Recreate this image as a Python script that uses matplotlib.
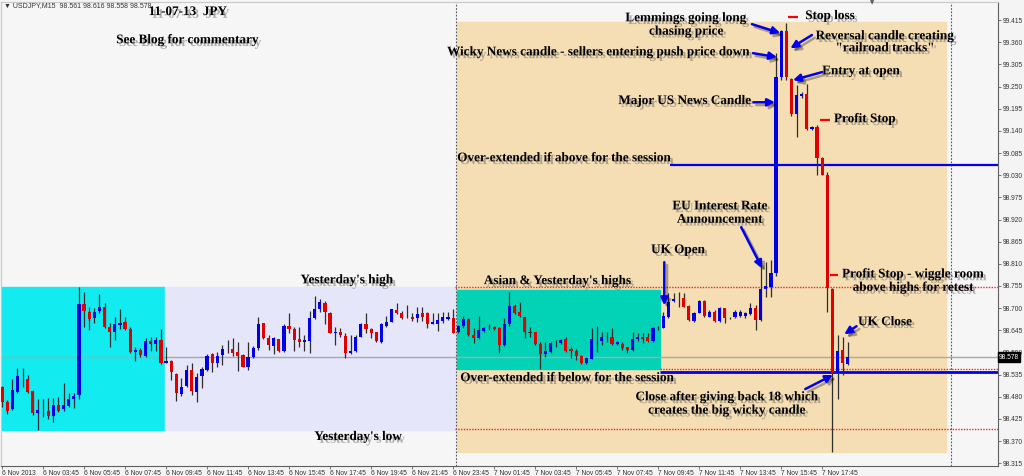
import matplotlib
matplotlib.use("Agg")
import matplotlib.pyplot as plt
import matplotlib.patheffects as pe
from matplotlib.patches import Rectangle
from matplotlib.transforms import blended_transform_factory
import numpy as np

# USDJPY M15 bars, 6 Nov 01:45 -> 7 Nov 17:15
opens = [98.504, 98.467, 98.449, 98.491, 98.524, 98.524, 98.494, 98.439, 98.444, 98.444,
         98.432, 98.459, 98.449, 98.457, 98.474, 98.484, 98.710, 98.690, 98.675, 98.692,
         98.702, 98.653, 98.640, 98.658, 98.665, 98.648, 98.591, 98.596, 98.581, 98.618,
         98.611, 98.621, 98.563, 98.568, 98.536, 98.486, 98.506, 98.546, 98.491, 98.531,
         98.546, 98.586, 98.563, 98.583, 98.598, 98.598, 98.591, 98.583, 98.553, 98.578,
         98.601, 98.663, 98.625, 98.606, 98.623, 98.593, 98.655, 98.648, 98.623, 98.616,
         98.618, 98.675, 98.697, 98.712, 98.687, 98.638, 98.640, 98.630, 98.588, 98.593,
         98.628, 98.660, 98.648, 98.640, 98.616, 98.655, 98.665, 98.695, 98.687, 98.678,
         98.678, 98.675, 98.687, 98.687, 98.660, 98.660, 98.668, 98.673, 98.675, 98.640,
         98.655, 98.673, 98.633, 98.625, 98.643, 98.650, 98.653, 98.650, 98.608, 98.660,
         98.705, 98.690, 98.678, 98.640, 98.640, 98.611, 98.586, 98.591, 98.613, 98.613,
         98.623, 98.598, 98.593, 98.581, 98.563, 98.573, 98.623, 98.618, 98.628, 98.628,
         98.611, 98.611, 98.603, 98.596, 98.623, 98.628, 98.628, 98.618, 98.648, 98.650,
         98.678, 98.717, 98.727, 98.725, 98.705, 98.668, 98.687, 98.717, 98.678, 98.690,
         98.668, 98.700, 98.675, 98.678, 98.680, 98.680, 98.685, 98.700, 98.670, 98.747,
         98.752, 98.787, 99.273, 99.388, 99.268, 99.183, 99.226, 99.231, 99.144, 99.149,
         99.072, 99.030, 98.747, 98.538, 98.596, 98.561]
highs = [98.506, 98.471, 98.524, 98.551, 98.551, 98.534, 98.496, 98.474, 98.474, 98.476,
         98.476, 98.479, 98.514, 98.489, 98.489, 98.752, 98.740, 98.702, 98.700, 98.735,
         98.712, 98.663, 98.678, 98.697, 98.678, 98.653, 98.603, 98.601, 98.626, 98.628,
         98.628, 98.648, 98.603, 98.571, 98.539, 98.526, 98.558, 98.563, 98.539, 98.553,
         98.586, 98.588, 98.591, 98.608, 98.621, 98.626, 98.616, 98.586, 98.616, 98.606,
         98.678, 98.663, 98.633, 98.628, 98.623, 98.660, 98.687, 98.653, 98.653, 98.633,
         98.692, 98.730, 98.722, 98.717, 98.690, 98.653, 98.650, 98.638, 98.633, 98.633,
         98.663, 98.687, 98.650, 98.640, 98.663, 98.680, 98.697, 98.712, 98.692, 98.707,
         98.687, 98.702, 98.702, 98.690, 98.687, 98.687, 98.690, 98.690, 98.697, 98.658,
         98.680, 98.675, 98.650, 98.680, 98.653, 98.660, 98.655, 98.653, 98.675, 98.740,
         98.710, 98.715, 98.678, 98.653, 98.640, 98.616, 98.616, 98.616, 98.621, 98.623,
         98.628, 98.603, 98.598, 98.583, 98.578, 98.650, 98.655, 98.640, 98.640, 98.650,
         98.618, 98.616, 98.603, 98.640, 98.638, 98.638, 98.638, 98.653, 98.655, 98.690,
         98.737, 98.737, 98.740, 98.737, 98.707, 98.690, 98.720, 98.720, 98.695, 98.695,
         98.702, 98.700, 98.678, 98.695, 98.695, 98.690, 98.712, 98.707, 98.807, 98.814,
         98.819, 99.333, 99.390, 99.407, 99.271, 99.253, 99.236, 99.256, 99.151, 99.154,
         99.075, 99.037, 98.750, 98.633, 98.628, 98.616]
lows = [98.454, 98.437, 98.447, 98.489, 98.504, 98.489, 98.434, 98.397, 98.429, 98.424,
        98.417, 98.442, 98.444, 98.454, 98.452, 98.474, 98.653, 98.645, 98.663, 98.687,
        98.650, 98.603, 98.621, 98.648, 98.645, 98.588, 98.568, 98.578, 98.578, 98.593,
        98.593, 98.561, 98.563, 98.521, 98.469, 98.481, 98.504, 98.484, 98.467, 98.501,
        98.544, 98.541, 98.553, 98.558, 98.588, 98.581, 98.544, 98.553, 98.546, 98.576,
        98.596, 98.623, 98.596, 98.586, 98.591, 98.591, 98.638, 98.593, 98.603, 98.593,
        98.588, 98.673, 98.690, 98.660, 98.638, 98.608, 98.628, 98.576, 98.586, 98.591,
        98.628, 98.638, 98.625, 98.616, 98.613, 98.653, 98.665, 98.685, 98.673, 98.675,
        98.668, 98.665, 98.668, 98.650, 98.660, 98.643, 98.663, 98.670, 98.638, 98.638,
        98.650, 98.630, 98.613, 98.623, 98.640, 98.645, 98.645, 98.588, 98.606, 98.655,
        98.685, 98.678, 98.625, 98.628, 98.608, 98.548, 98.578, 98.588, 98.603, 98.611,
        98.591, 98.576, 98.571, 98.561, 98.561, 98.573, 98.591, 98.608, 98.616, 98.608,
        98.608, 98.596, 98.588, 98.593, 98.618, 98.613, 98.616, 98.616, 98.645, 98.650,
        98.675, 98.715, 98.702, 98.702, 98.668, 98.665, 98.687, 98.678, 98.678, 98.665,
        98.665, 98.663, 98.673, 98.675, 98.678, 98.675, 98.683, 98.645, 98.668, 98.727,
        98.727, 98.780, 99.266, 99.266, 99.178, 99.124, 99.221, 99.141, 99.141, 99.030,
        99.030, 98.690, 98.342, 98.474, 98.534, 98.558]
closes = [98.467, 98.444, 98.496, 98.531, 98.524, 98.491, 98.439, 98.447, 98.444, 98.432,
          98.459, 98.444, 98.459, 98.474, 98.481, 98.710, 98.692, 98.673, 98.690, 98.702,
          98.653, 98.640, 98.660, 98.663, 98.648, 98.591, 98.596, 98.583, 98.618, 98.611,
          98.621, 98.563, 98.568, 98.541, 98.489, 98.504, 98.546, 98.494, 98.529, 98.548,
          98.581, 98.563, 98.581, 98.598, 98.598, 98.588, 98.581, 98.553, 98.578, 98.601,
          98.660, 98.625, 98.608, 98.625, 98.593, 98.655, 98.648, 98.621, 98.616, 98.621,
          98.675, 98.697, 98.715, 98.690, 98.638, 98.640, 98.633, 98.588, 98.593, 98.628,
          98.660, 98.648, 98.638, 98.618, 98.660, 98.665, 98.697, 98.687, 98.675, 98.678,
          98.673, 98.685, 98.678, 98.660, 98.665, 98.670, 98.678, 98.678, 98.638, 98.655,
          98.673, 98.633, 98.625, 98.645, 98.650, 98.650, 98.648, 98.608, 98.660, 98.705,
          98.687, 98.680, 98.640, 98.640, 98.611, 98.586, 98.593, 98.613, 98.613, 98.621,
          98.593, 98.593, 98.581, 98.563, 98.576, 98.623, 98.623, 98.628, 98.628, 98.611,
          98.616, 98.601, 98.596, 98.623, 98.628, 98.623, 98.618, 98.650, 98.648, 98.680,
          98.715, 98.722, 98.727, 98.702, 98.670, 98.687, 98.717, 98.680, 98.690, 98.668,
          98.700, 98.675, 98.675, 98.690, 98.690, 98.687, 98.700, 98.670, 98.747, 98.755,
          98.787, 99.273, 99.388, 99.273, 99.183, 99.228, 99.231, 99.144, 99.149, 99.072,
          99.030, 98.749, 98.538, 98.593, 98.563, 98.578]

time_labels = ["6 Nov 2013", "6 Nov 03:45", "6 Nov 05:45", "6 Nov 07:45", "6 Nov 09:45",
               "6 Nov 11:45", "6 Nov 13:45", "6 Nov 15:45", "6 Nov 17:45", "6 Nov 19:45",
               "6 Nov 21:45", "6 Nov 23:45", "7 Nov 01:45", "7 Nov 03:45", "7 Nov 05:45",
               "7 Nov 07:45", "7 Nov 09:45", "7 Nov 11:45", "7 Nov 13:45", "7 Nov 15:45",
               "7 Nov 17:45"]
time_ticks = [8 * i for i in range(len(time_labels))]

# key levels
yest_high, yest_low = 98.752, 98.397
asian_high, asian_low = 98.745, 98.548
session_top, session_bottom = 99.410, 98.342
over_above, over_below = 99.055, 98.542
bid = 98.578
day_start = 88.5          # 7 Nov 00:00
next_day = 185.2          # 8 Nov 00:00

SERIF = "Liberation Serif"
SANS = "Liberation Sans"
BLUE = "#0000ee"
shadow = [pe.withSimplePatchShadow(offset=(2, -2), shadow_rgbFace="#555555", alpha=0.45)]

fig = plt.figure(figsize=(10.24, 4.76), dpi=100, facecolor="#f4f4f4")
ax = fig.add_axes([1 / 1024, 10 / 476, 997 / 1024, 464 / 476])
ax.set_facecolor("#f6f6f6")
ax.set_xlim(-0.2, 194.3)
ax.set_ylim(98.308, 99.460)

# background zones
ax.add_patch(Rectangle((-1, yest_low), 32.8, yest_high - yest_low, color="#12ebf0", zorder=0))
ax.add_patch(Rectangle((31.8, yest_low), 57.0, yest_high - yest_low, color="#e6e6fa", zorder=0))
ax.add_patch(Rectangle((88.8, session_bottom), 95.4, session_top - session_bottom,
                       color="#f5deb3", zorder=0))
ax.add_patch(Rectangle((88.8, asian_low), 39.6, asian_high - asian_low, color="#02d3b6", zorder=0.5))

# period separators
for xs in (day_start, next_day):
    ax.axvline(xs, color="#555555", lw=0.8, ls=(0, (1.5, 1.5)), zorder=1)

# horizontal levels
ax.axhline(bid, color="#a8a8a8", lw=1, zorder=1)
ax.hlines([yest_high, yest_low + 0.003], 88.4, 194.3, colors="#ff2020", lw=1,
          linestyles=(0, (1, 1)), zorder=2)
ax.hlines(over_below + 0.006, 128.4, 194.3, colors="#ff2020", lw=1, linestyles=(0, (1, 1)), zorder=2)
ax.hlines(over_below, 128.4, 194.3, colors=BLUE, lw=2, zorder=2)
ax.hlines(over_above, 130.4, 194.3, colors=BLUE, lw=1.6, zorder=2)

# candles
x = np.arange(len(opens))
o = np.array(opens)
c = np.array(closes)
ax.vlines(x, lows, highs, color="#2e2e2e", lw=0.9, zorder=3)
flat = np.isclose(o, c)
body_h = np.where(flat, 0.0012, np.abs(c - o))
body_b = np.where(flat, o - 0.0006, np.minimum(o, c))
body_c = np.where(c > o, "#0000e6", np.where(c < o, "#e00000", "#2e2e2e"))
ax.bar(x, body_h, bottom=body_b, width=0.62, color=body_c, linewidth=0, zorder=4)


def note(xp, yp, s, ha="left", size=9.5, ls=1.15):
    t = ax.text(xp, yp, s, ha=ha, va="center", fontsize=size, family=SERIF,
                fontweight="bold", color="black", linespacing=ls, zorder=6)
    t.set_path_effects(shadow)
    return t


def arrow(x0, y0, x1, y1):
    a = ax.annotate("", xy=(x1, y1), xytext=(x0, y0), zorder=6,
                    arrowprops=dict(arrowstyle="-|>", color=BLUE, lw=1.8,
                                    mutation_scale=11, shrinkA=0, shrinkB=0))
    a.arrow_patch.set_path_effects([pe.SimpleLineShadow(offset=(2, -2), alpha=0.3), pe.Normal()])


note(36.3, 99.435, "11-07-13  JPY", ha="center")
note(36.3, 99.365, "See Blog for commentary", ha="center")
note(67.3, 98.769, "Yesterday's high", ha="center")
note(69.5, 98.380, "Yesterday's low", ha="center")
note(94.0, 98.767, "Asian & Yesterday's highs")
note(88.8, 99.072, "Over-extended if above for the session")
note(89.4, 98.526, "Over-extended if below for the session")
note(131.9, 98.844, "UK Open", ha="center")
note(140.1, 98.936, "EU Interest Rate\nAnnouncement", ha="center")
note(133.5, 99.403, "Lemmings going long\nchasing price", ha="center")
note(146.3, 99.335, "Wicky News candle - sellers entering push price down", ha="right")
note(146.3, 99.214, "Major US News Candle", ha="right")
note(156.7, 99.425, "Stop loss")
note(172.3, 99.360, "Reversal candle creating\n\"railroad tracks\"", ha="center", ls=1.0)
note(160.0, 99.288, "Entry at open")
note(162.3, 99.169, "Profit Stop")
note(177.8, 98.767, "Profit Stop - wiggle room\nabove highs for retest", ha="center")
note(167.0, 98.665, "UK Close")
note(141.5, 98.462, "Close after giving back 18 which\ncreates the big wicky candle", ha="center")

# stop markers
ax.hlines([99.422, 99.167, 98.782], [153.4, 159.6, 161.6], [155.3, 161.6, 163.1],
          colors="#ff0000", lw=1.6, zorder=6)

arrow(146.3, 99.405, 151.8, 99.383)
arrow(146.5, 99.333, 151.2, 99.323)
arrow(146.6, 99.211, 150.8, 99.211)
arrow(158.0, 99.378, 153.8, 99.345)
arrow(160.0, 99.286, 154.3, 99.266)
arrow(144.2, 98.901, 148.3, 98.799)
arrow(129.2, 98.814, 129.2, 98.707)
arrow(166.7, 98.655, 164.3, 98.635)
arrow(156.7, 98.499, 162.1, 98.534)

# axes styling
for side in ("top", "left"):
    ax.spines[side].set_color("#c8c8c8")
for side in ("right", "bottom"):
    ax.spines[side].set_color("#606060")
ax.yaxis.tick_right()
yt = np.round(np.arange(98.315, 99.4151, 0.055), 3)
ax.set_yticks(yt)
ax.set_yticklabels([f"{v:.3f}" for v in yt], family=SANS)
ax.tick_params(axis="y", length=2, width=0.6, colors="#606060", labelcolor="#333333",
               labelsize=4.8, pad=1.5)
ax.set_xticks(time_ticks)
ax.set_xticklabels(time_labels, ha="left", family=SANS)
ax.tick_params(axis="x", length=2, width=0.6, colors="#606060", labelcolor="#333333",
               labelsize=4.8, pad=0.8)

# current price tag
tr = blended_transform_factory(ax.transAxes, ax.transData)
ax.text(1.001, bid, f"{bid:.3f}", transform=tr, ha="left", va="center", fontsize=4.8,
        family=SANS, color="white",
        bbox=dict(boxstyle="square,pad=0.2", fc="black", ec="black"),
        clip_on=False, zorder=7)

fig.text(4 / 1024, 1 - 6 / 476, "\u25bc USDJPY,M15  98.561 98.616 98.558 98.578",
         fontsize=5, family=SANS, color="#333333", va="center", ha="left")
fig.text(872 / 1024, 1 - 3 / 476, "\u25bc", fontsize=4, color="#555555", va="center", ha="center")

fig.savefig("out.png", dpi=100, facecolor=fig.get_facecolor())
